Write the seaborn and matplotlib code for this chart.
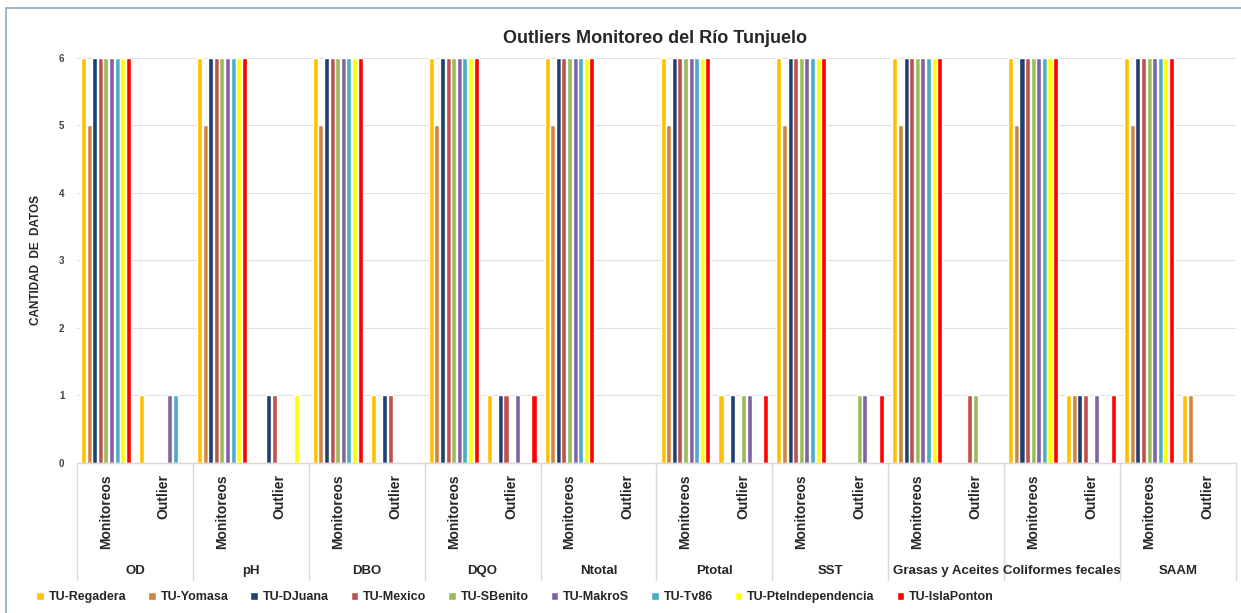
import matplotlib
matplotlib.use('Agg')
import matplotlib.pyplot as plt
import matplotlib.transforms as mtransforms
from matplotlib.lines import Line2D
import seaborn as sns
import pandas as pd

# parameters and sub-categories
parametros = ['OD', 'pH', 'DBO', 'DQO', 'Ntotal', 'Ptotal', 'SST',
              'Grasas y Aceites', 'Coliformes fecales', 'SAAM']
subcats = ['Monitoreos', 'Outlier']

estaciones = ['TU-Regadera', 'TU-Yomasa', 'TU-DJuana', 'TU-Mexico', 'TU-SBenito',
              'TU-MakroS', 'TU-Tv86', 'TU-PteIndependencia', 'TU-IslaPonton']
colores = ['#FFC000', '#D0843F', '#1F3F6E', '#C0504D', '#9BBB59',
           '#8064A2', '#4BACC6', '#FFFF00', '#FF0000']

# monitoreos per station (same for every parameter)
monitoreos = [6, 5, 6, 6, 6, 6, 6, 6, 6]

# outliers per parameter, order of estaciones
outliers = {
    'OD':                 [1, 0, 0, 0, 0, 1, 1, 0, 0],
    'pH':                 [0, 0, 1, 1, 0, 0, 0, 1, 0],
    'DBO':                [1, 0, 1, 1, 0, 0, 0, 0, 0],
    'DQO':                [1, 0, 1, 1, 0, 1, 0, 0, 1],
    'Ntotal':             [0, 0, 0, 0, 0, 0, 0, 0, 0],
    'Ptotal':             [1, 0, 1, 0, 1, 1, 0, 0, 1],
    'SST':                [0, 0, 0, 0, 1, 1, 0, 0, 1],
    'Grasas y Aceites':   [0, 0, 0, 1, 1, 0, 0, 0, 0],
    'Coliformes fecales': [1, 1, 1, 1, 0, 1, 0, 0, 1],
    'SAAM':               [1, 1, 0, 0, 0, 0, 0, 0, 0],
}

rows = []
orden = []
for p in parametros:
    for s in subcats:
        key = p + '|' + s
        orden.append(key)
        vals = monitoreos if s == 'Monitoreos' else outliers[p]
        for est, v in zip(estaciones, vals):
            rows.append({'pos': key, 'estacion': est, 'valor': v})
df = pd.DataFrame(rows)

sns.set_style('white')
plt.rcParams['font.family'] = ['Liberation Sans', 'DejaVu Sans']

fig = plt.figure(figsize=(12.41, 6.13), dpi=100)
ax = fig.add_axes([0.062, 0.2447, 0.934, 0.6607])

sns.barplot(data=df, x='pos', y='valor', hue='estacion', order=orden,
            hue_order=estaciones, palette=colores, width=0.87, gap=0.1,
            ax=ax, errorbar=None, saturation=1)

handles, labels = ax.get_legend_handles_labels()
ax.get_legend().remove()

ax.set_xlim(-0.5, len(orden) - 0.5)
ax.set_ylim(0, 6)
ax.set_yticks(range(0, 7))
ax.tick_params(axis='y', labelsize=7, colors='#404040', length=0, pad=9)
for t in ax.get_yticklabels():
    t.set_fontweight('bold')
ax.yaxis.grid(True, color='#E0E0E0', linewidth=0.8)
ax.set_axisbelow(True)
for sp in ax.spines.values():
    sp.set_visible(False)
ax.set_xticks([])
ax.set_xlabel('')
ax.set_ylabel('CANTIDAD  DE  DATOS', fontsize=8.5, fontweight='bold', labelpad=12)

# multi-level category axis
trans = mtransforms.blended_transform_factory(ax.transData, ax.transAxes)
linea = '#D9D9D9'
ax.plot([-0.5, len(orden) - 0.5], [0, 0], color=linea, lw=1, transform=trans, clip_on=False)
for i in range(len(parametros) + 1):
    xb = -0.5 + 2 * i
    ax.plot([xb, xb], [0, -0.29], color=linea, lw=1, transform=trans, clip_on=False)
for i, key in enumerate(orden):
    sub = key.split('|')[1]
    ax.text(i, -0.028, sub, rotation=90, ha='center', va='top', fontsize=10,
            fontweight='bold', transform=trans)
for i, p in enumerate(parametros):
    ax.text(2 * i + 0.5, -0.267, p, ha='center', va='center', fontsize=9.5,
            fontweight='bold', transform=trans)

fig.text(0.528, 0.938, 'Outliers Monitoreo del Río Tunjuelo', ha='center', va='center',
         fontsize=13, fontweight='bold')

fig.legend(handles, labels, loc='center', bbox_to_anchor=(0.415, 0.026), ncol=9,
           frameon=False, handlelength=0.6, handleheight=0.6,
           handletextpad=0.4, columnspacing=1.75,
           prop={'weight': 'bold', 'size': 9})

# outer frame
marco = '#8EA9C1'
fig.add_artist(Line2D([6 / 1241, 6 / 1241], [0, 1 - 8 / 613], color=marco, lw=1.2,
                      transform=fig.transFigure))
fig.add_artist(Line2D([6 / 1241, 1], [1 - 8 / 613, 1 - 8 / 613], color=marco, lw=1.2,
                      transform=fig.transFigure))

fig.savefig('out.png', dpi=100, facecolor='white')
